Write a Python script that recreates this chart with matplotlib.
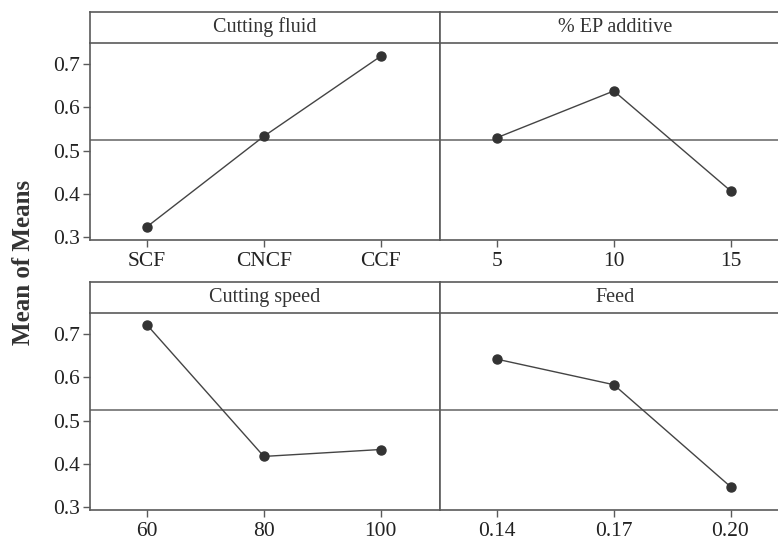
import numpy as np
import matplotlib
matplotlib.use("Agg")
import matplotlib.pyplot as plt

plt.rcParams['font.family'] = ['Liberation Serif', 'DejaVu Serif']

# main effects data
fluid_levels = ['SCF', 'CNCF', 'CCF']
fluid_means = [0.324, 0.533, 0.718]
ep_levels = ['5', '10', '15']
ep_means = [0.530, 0.638, 0.407]
speed_levels = ['60', '80', '100']
speed_means = [0.721, 0.417, 0.433]
feed_levels = ['0.14', '0.17', '0.20']
feed_means = [0.642, 0.583, 0.347]

panels = [
    ('Cutting fluid', fluid_levels, fluid_means),
    ('% EP additive', ep_levels, ep_means),
    ('Cutting speed', speed_levels, speed_means),
    ('Feed', feed_levels, feed_means),
]
grand_mean = np.mean(fluid_means)

W, H = 778.0, 547.0
fig = plt.figure(figsize=(W / 100, H / 100), dpi=100)
fig.patch.set_facecolor('white')

edge = '#5a5a5a'
lefts = [90, 440]
tops = [12, 282]   # strip top in pixels
strip_h = 31
plot_h = 197
panel_w = 350

for k, (title, levels, means) in enumerate(panels):
    r, c = divmod(k, 2)
    x0 = lefts[c]
    st = tops[r]
    pt = st + strip_h
    ax = fig.add_axes([x0 / W, 1 - (pt + plot_h) / H, panel_w / W, plot_h / H])
    sx = fig.add_axes([x0 / W, 1 - pt / H, panel_w / W, strip_h / H])

    xs = np.arange(len(levels))
    ax.axhline(grand_mean, color='#707070', lw=1.2, zorder=1)
    ax.plot(xs, means, color='#444444', lw=1.0, zorder=2)
    ax.plot(xs, means, 'o', color='#333333', ms=6.5, zorder=3)
    ax.set_xlim(-0.49, 2.51)
    ax.set_ylim(0.293, 0.749)
    ax.set_xticks(xs)
    ax.set_xticklabels(levels)
    ax.tick_params(axis='both', direction='out', length=5, width=1, color=edge,
                   labelsize=15.5, labelcolor='#222222')
    ax.tick_params(axis='x', pad=4)
    ax.tick_params(axis='y', pad=2)
    if c == 0:
        ax.set_yticks([0.3, 0.4, 0.5, 0.6, 0.7])
        ax.set_yticklabels(['0.3', '0.4', '0.5', '0.6', '0.7'])
    else:
        ax.set_yticks([])
    ax.spines['top'].set_visible(False)
    for s in ['left', 'right', 'bottom']:
        ax.spines[s].set_color(edge)
        ax.spines[s].set_linewidth(1.2)

    sx.set_xticks([])
    sx.set_yticks([])
    for s in sx.spines.values():
        s.set_color(edge)
        s.set_linewidth(1.2)
    sx.text(0.5, 0.5, title, ha='center', va='center', fontsize=14.5,
            color='#333333', transform=sx.transAxes)

fig.text(24 / W, 1 - 262 / H, 'Mean of Means', rotation=90, ha='center', va='center',
         fontsize=18, fontweight='bold', color='#333333')

fig.savefig('out.png', dpi=100, facecolor='white')
